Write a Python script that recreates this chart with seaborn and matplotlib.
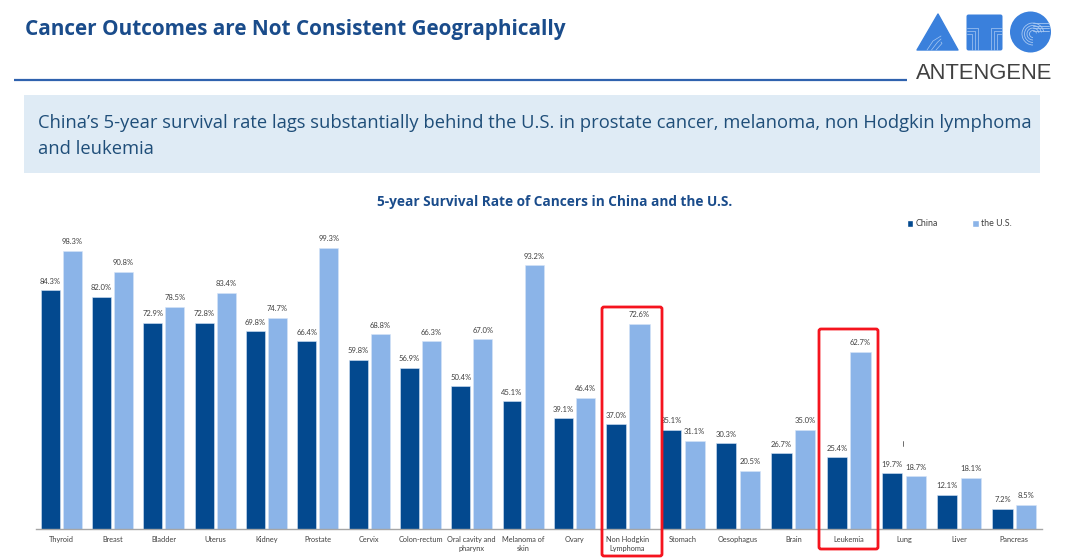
import matplotlib
matplotlib.use("Agg")
import matplotlib.pyplot as plt
from matplotlib.patches import Rectangle, Polygon, Circle, FancyBboxPatch, Arc, Patch
import pandas as pd
import seaborn as sns

sns.set_theme(style="white")
plt.rcParams['font.family'] = ['Lato', 'DejaVu Sans']

categories_a = ["Thyroid", "Breast", "Bladder", "Uterus", "Kidney", "Prostate", "Cervix",
                "Colon-rectum", "Oral cavity and\npharynx", "Melanoma of\nskin", "Ovary"]
china_a = [84.3, 82.0, 72.9, 72.8, 69.8, 66.4, 59.8, 56.9, 50.4, 45.1, 39.1]
us_a = [98.3, 90.8, 78.5, 83.4, 74.7, 99.3, 68.8, 66.3, 67.0, 93.2, 46.4]

categories_b = ["Non Hodgkin\nLymphoma", "Stomach", "Oesophagus", "Brain", "Leukemia", "Lung", "Liver", "Pancreas"]
china_b = [37.0, 35.1, 30.3, 26.7, 25.4, 19.7, 12.1, 7.2]
us_b = [72.6, 31.1, 20.5, 35.0, 62.7, 18.7, 18.1, 8.5]

series_names = ["China", "the U.S."]
palette = {"China": "#03498F", "the U.S.": "#8BB4E8"}

W, H = 1080, 558
fig = plt.figure(figsize=(W / 100, H / 100), dpi=100, facecolor="white")


def px_axes(x0, x1, ytop, ybot):
    return fig.add_axes([x0 / W, 1 - ybot / H, (x1 - x0) / W, (ybot - ytop) / H])


def panel(ax, cats, china, us):
    df = pd.DataFrame({"cat": cats * 2,
                       "series": [series_names[0]] * len(cats) + [series_names[1]] * len(cats),
                       "value": list(china) + list(us)})
    sns.barplot(data=df, x="cat", y="value", hue="series", order=cats, hue_order=series_names,
                palette=palette, width=0.86, gap=0.14, saturation=1, legend=False, ax=ax,
                edgecolor="#D6E4F7", linewidth=0.4)
    for c in ax.containers:
        ax.bar_label(c, fmt="%.1f%%", padding=4, fontsize=5.5, color="#404040")
    ax.set_ylim(0, 100)
    ax.set_xlim(-0.5, len(cats) - 0.5)
    ax.set_xlabel("")
    ax.set_ylabel("")
    ax.set_yticks([])
    ax.tick_params(axis="x", length=0, pad=5, labelsize=5.3, labelcolor="#404040")
    for s in ["top", "left", "right"]:
        ax.spines[s].set_visible(False)
    ax.spines["bottom"].set_color("#A6A6A6")
    ax.spines["bottom"].set_linewidth(1.0)
    ax.patch.set_alpha(0)
    for lab in ax.get_xticklabels():
        lab.set_linespacing(1.4)
        lab.set_verticalalignment("top")


ax_a = px_axes(35.5, 600, 246, 529)
ax_b = px_axes(600, 1042, 246, 529)
panel(ax_a, categories_a, china_a, us_a)
panel(ax_b, categories_b, china_b, us_b)

# Overlay in pixel coordinates
ov = fig.add_axes([0, 0, 1, 1], zorder=5)
ov.set_xlim(0, W)
ov.set_ylim(H, 0)
ov.axis("off")
ov.patch.set_alpha(0)

title_blue = "#1A4C8B"
ov.text(25, 30, "Cancer Outcomes are Not Consistent Geographically", fontsize=14.95, fontweight="bold",
        family=["Open Sans", "DejaVu Sans"], color=title_blue, va="center", ha="left")
ov.plot([14, 907], [80, 80], color="#2F62AE", lw=1.6, solid_capstyle="butt")

ov.add_patch(Rectangle((24, 95), 1016, 78, facecolor="#DFEBF5", edgecolor="none"))
banner = ["China\u2019s 5-year survival rate lags substantially behind the U.S. in prostate cancer, melanoma, non Hodgkin lymphoma",
          "and leukemia"]
for txt, y in zip(banner, [123, 149]):
    ov.text(38, y, txt, fontsize=13.25, family=["Open Sans", "DejaVu Sans"], color="#1F4E79", va="center", ha="left")

ov.text(554.5, 202, "5-year Survival Rate of Cancers in China and the U.S.", fontsize=9.85, fontweight="bold",
        family=["Open Sans", "DejaVu Sans"], color=title_blue, va="center", ha="center")

# Legend
handles = [Patch(facecolor=palette[n], label=n) for n in series_names]
ov.legend(handles=handles, loc="center left", bbox_to_anchor=(907 / W, 1 - 224 / H), bbox_transform=fig.transFigure,
          ncols=2, frameon=False, fontsize=6.4, handlelength=0.7, handleheight=0.7, handletextpad=0.25,
          columnspacing=3.9, labelcolor="#404040", borderpad=0, borderaxespad=0)

# Highlight boxes
for x0, x1, y0, y1 in [(602, 662, 307, 556), (819, 878, 329, 549)]:
    ov.add_patch(FancyBboxPatch((x0 + 2, y0 + 2), x1 - x0 - 4, y1 - y0 - 4, boxstyle="round,pad=2,rounding_size=2",
                                facecolor="none", edgecolor="#F5141E", lw=2.0))
ov.plot([903, 903], [441, 446], color="#555555", lw=0.6)

# Logo
logo = "#3A80DC"
ov.add_patch(Polygon([(938, 14), (958, 50), (917, 50)], closed=True, facecolor=logo, edgecolor=logo, lw=1, joinstyle="round"))
ov.add_patch(FancyBboxPatch((967, 15), 35, 35, boxstyle="round,pad=0.5,rounding_size=2", facecolor=logo, edgecolor="none"))
ov.add_patch(Circle((1030.5, 32), 20.5, facecolor=logo, edgecolor="none"))
line_c = "#A9C9F2"
for dx in [0, 3, 6]:
    ov.plot([967, 978 - dx, 978 - dx], [28 + dx, 28 + dx, 50], color=line_c, lw=0.5)
    ov.plot([1002, 991 + dx, 991 + dx], [28 + dx, 28 + dx, 50], color=line_c, lw=0.5)
    ov.plot([927 + dx * 1.5, 933 + dx * 1.5, 941], [50, 41 + dx * 0.4, 36 + dx], color=line_c, lw=0.5)
for r in [3.5, 6, 8.5, 11]:
    ov.add_patch(Arc((1033, 34), r * 2, r * 2, theta1=90, theta2=350, color=line_c, lw=0.6))
    ov.plot([1033, 1049], [34 - r, 34 - r], color=line_c, lw=0.6)
ov.text(984, 73.5, "ANTENGENE", fontsize=15.8, family=["Liberation Sans", "DejaVu Sans"], color="#404040",
        ha="center", va="center")

fig.savefig("out.png", dpi=100)
